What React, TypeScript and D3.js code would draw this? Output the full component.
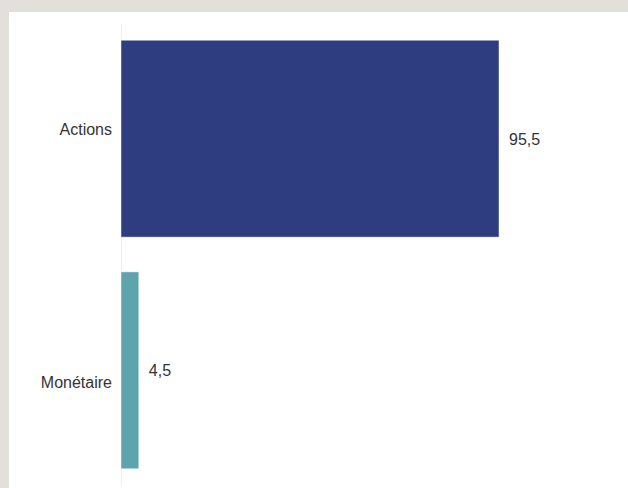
import React from "react";
import * as d3 from "d3";

const categories = ["Actions", "Monétaire"];
const values = [95.5, 4.5];
const valueLabels = ["95,5", "4,5"];
const colors = ["#2e3c80", "#5fa3ad"];

export default function App() {
  const W = 628, H = 488;
  const x0 = 121;
  const x = d3.scaleLinear().domain([0, 100]).range([x0, x0 + 395.8]);
  const y = d3.scaleBand().domain(categories).range([24, 485]).paddingInner(0.15).paddingOuter(0.07);
  const catDy = [-9, 12];
  const valDy = [1, 0];
  return (
    <div style={{ position: "fixed", left: 0, top: 0 }}>
      <svg width={W} height={H} style={{ display: "block" }} fontFamily="'Liberation Sans', Arial, sans-serif">
        <rect x={0} y={0} width={W} height={H} fill="#e3dfdb" />
        <rect x={9} y={12} width={W - 9} height={H - 12} fill="#ffffff" />
        <line x1={x0 + 0.5} x2={x0 + 0.5} y1={24} y2={486} stroke="#eeeeee" strokeWidth={1} />
        {categories.map((c, i) => {
          const by = y(c)!;
          const bh = y.bandwidth();
          const cy = by + bh / 2;
          return (
            <g key={c}>
              <rect x={x(0)} y={by} width={x(values[i]) - x(0)} height={bh} fill={colors[i]} stroke="#ffffff" strokeOpacity={0.6} strokeWidth={0.8} />
              <text x={112} y={cy + catDy[i]} textAnchor="end" dominantBaseline="central" fontSize={16} fill="#333333">{c}</text>
              <text x={x(values[i]) + 10} y={cy + valDy[i]} textAnchor="start" dominantBaseline="central" fontSize={16} fill="#333333">{valueLabels[i]}</text>
            </g>
          );
        })}
      </svg>
    </div>
  );
}
